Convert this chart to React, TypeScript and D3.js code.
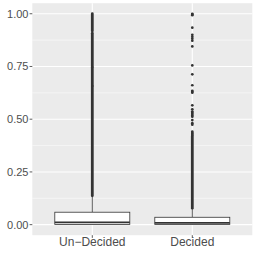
import React from "react";
import * as d3 from "d3";

const categories = ["Un\u2212Decided", "Decided"];
const lowerWhisker = [0, 0];
const q1 = [0.0005, 0.001];
const median = [0.0105, 0.008];
const q3 = [0.059, 0.035];
const upperWhisker = [0.137, 0.078];
// dense runs of outliers (drawn as overlapping points)
const denseOutliers: [number, number][][] = [
  [[0.137, 0.655], [0.659, 0.745], [0.749, 0.908], [0.918, 1.0]],
  [[0.078, 0.42]],
];
const singleOutliers: number[][] = [
  [],
  [1.0, 0.997, 0.993, 0.934, 0.9, 0.891, 0.882, 0.872, 0.845, 0.755, 0.713, 0.661, 0.635, 0.63, 0.626,
   0.566, 0.547, 0.536, 0.53, 0.525, 0.518, 0.512, 0.496, 0.481, 0.474, 0.441, 0.435, 0.43, 0.425],
];
const yTicks = [0, 0.25, 0.5, 0.75, 1.0];
const yMinor = [0.125, 0.375, 0.625, 0.875];

export default function App() {
  const W = 256, H = 256;
  const left = 32.3, right = 252.3, top = 3.2, bottom = 235.2;
  const x = d3.scalePoint<string>().domain(categories).range([left, right]).padding(0.6);
  const y = d3.scaleLinear().domain([-0.05, 1.05]).range([bottom, top]);
  const step = x.step();
  const bw = step * 0.75;
  const dark = "#333333";
  const font = "'Liberation Sans', Arial, Helvetica, sans-serif";
  return (
    <svg width={W} height={H} style={{ position: "absolute", left: 0, top: 0, background: "#fff" }}>
      <rect x={left} y={top} width={right - left} height={bottom - top} fill="#EBEBEB" />
      {yMinor.map((t) => (
        <line key={"mn" + t} x1={left} x2={right} y1={y(t)} y2={y(t)} stroke="#fff" strokeWidth={0.5} />
      ))}
      {yTicks.map((t) => (
        <line key={"mj" + t} x1={left} x2={right} y1={y(t)} y2={y(t)} stroke="#fff" strokeWidth={1.1} />
      ))}
      {categories.map((c) => (
        <line key={"vx" + c} x1={x(c)} x2={x(c)} y1={top} y2={bottom} stroke="#fff" strokeWidth={1.1} />
      ))}
      {categories.map((c, i) => {
        const cx = x(c)!;
        return (
          <g key={"box" + c}>
            <line x1={cx} x2={cx} y1={y(q3[i])} y2={y(upperWhisker[i])} stroke={dark} strokeWidth={0.8} />
            <line x1={cx} x2={cx} y1={y(q1[i])} y2={y(lowerWhisker[i])} stroke={dark} strokeWidth={0.8} />
            {denseOutliers[i].map(([a, b], k) => (
              <line key={k} x1={cx} x2={cx} y1={y(a)} y2={y(b)} stroke={dark} strokeWidth={2.8} strokeLinecap="round" />
            ))}
            {singleOutliers[i].map((v, k) => (
              <circle key={"o" + k} cx={cx} cy={y(v)} r={1.35} fill={dark} />
            ))}
            <rect x={cx - bw / 2} y={y(q3[i])} width={bw} height={y(q1[i]) - y(q3[i])} fill="#fff" stroke={dark} strokeWidth={0.8} />
            <line x1={cx - bw / 2} x2={cx + bw / 2} y1={y(median[i])} y2={y(median[i])} stroke={dark} strokeWidth={1.8} />
          </g>
        );
      })}
      {yTicks.map((t) => (
        <g key={"yt" + t}>
          <line x1={left - 2.7} x2={left} y1={y(t)} y2={y(t)} stroke={dark} strokeWidth={0.8} />
          <text x={left - 3.8} y={y(t)} dy="0.35em" textAnchor="end" fontFamily={font} fontSize={11} fill="#4D4D4D">
            {t.toFixed(2)}
          </text>
        </g>
      ))}
      {categories.map((c) => (
        <g key={"xt" + c}>
          <line x1={x(c)} x2={x(c)} y1={bottom} y2={bottom + 2.7} stroke={dark} strokeWidth={0.8} />
          <text x={x(c)} y={246} textAnchor="middle" fontFamily={font} fontSize={12} fill="#4D4D4D">
            {c}
          </text>
        </g>
      ))}
    </svg>
  );
}
